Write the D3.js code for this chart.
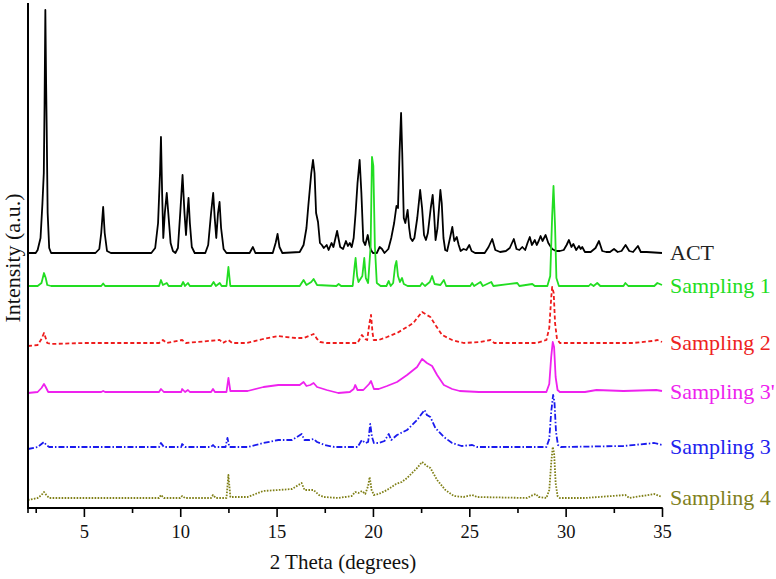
<!DOCTYPE html>
<html><head><meta charset="utf-8">
<script src="https://cdn.jsdelivr.net/npm/d3@7/dist/d3.min.js"></script>
<style>body{margin:0;background:#fff}svg{display:block}</style>
</head><body>
<svg id="c" width="776" height="579"></svg>
<script>
// ---- data (2θ, intensity above each trace's own baseline, a.u.) ----
const seriesNames = ["ACT","Sampling 1","Sampling 2","Sampling 3'","Sampling 3","Sampling 4"];
const seriesOffsets = [255, 222, 165, 116, 61, 10];
const xTicks = [5,10,15,20,25,30,35];
const xMinorTicks = [2.5,7.5,12.5,17.5,22.5,27.5,32.5];

const act = [[2.1,0],[2.5,0],[2.6,3],[2.75,15],[2.85,50],[2.92,80],[2.96,150],[3.0,243],[3.04,170],[3.07,125],[3.12,40],[3.2,5],[3.3,0],
[5.6,0],[5.8,4],[5.9,20],[6.0,46],[6.08,20],[6.2,2],[6.4,0],
[8.5,0],[8.7,5],[8.85,30],[8.95,80],[9.0,116],[9.06,60],[9.12,15],[9.2,40],[9.3,60],[9.38,40],[9.5,10],[9.62,2],[9.75,0],
[9.88,5],[10.0,40],[10.12,78],[10.22,40],[10.3,18],[10.37,40],[10.43,55],[10.5,30],[10.6,6],[10.75,0],
[11.3,0],[11.45,8],[11.6,40],[11.71,60],[11.79,35],[11.87,15],[11.96,40],[12.04,51],[12.12,25],[12.25,4],[12.4,0],
[13.6,0],[13.77,6],[13.9,0],[14.8,0],[14.95,10],[15.05,19],[15.15,6],[15.3,0],
[16.2,1],[16.4,8],[16.55,25],[16.65,48],[16.8,80],[16.89,93],[16.97,80],[17.05,40],[17.15,31],[17.25,10],[17.35,8],[17.45,5],[17.6,8],[17.7,3],[17.85,10],[17.95,6],[18.14,22],[18.3,6],[18.45,4],[18.6,12],[18.7,7],[18.8,10],[18.9,6],[19.0,15],[19.1,40],[19.2,70],[19.31,93],[19.4,60],[19.5,12],[19.6,8],[19.73,18],[19.82,8],[19.9,3],[20.0,0],[20.2,0],[20.35,6],[20.47,4],[20.6,0],
[20.8,4],[20.95,15],[21.1,30],[21.22,47],[21.3,45],[21.38,100],[21.46,140],[21.52,100],[21.6,35],[21.68,30],[21.8,43],[21.88,25],[21.95,15],[22.05,12],[22.15,15],[22.3,35],[22.45,63],[22.55,45],[22.65,18],[22.75,13],[22.85,20],[23.0,45],[23.1,58],[23.17,40],[23.25,13],[23.35,25],[23.5,63],[23.57,50],[23.66,15],[23.75,3],[23.85,2],[24.0,15],[24.12,26],[24.22,12],[24.35,16],[24.45,8],[24.55,2],[24.7,4],[24.85,3],[25.0,8],[25.12,2],[25.3,0],
[25.8,0],[26.0,6],[26.19,14],[26.35,3],[26.6,1],[26.9,2],[27.1,5],[27.31,14],[27.45,4],[27.6,3],[27.75,6],[27.9,3],[28.02,10],[28.14,16],[28.25,8],[28.4,13],[28.5,8],[28.6,12],[28.7,17],[28.8,12],[28.96,18],[29.1,10],[29.3,4],[29.5,2],[29.7,2],[29.9,3],[30.05,8],[30.17,13],[30.3,6],[30.4,9],[30.55,3],[30.69,7],[30.78,4],[30.86,6],[31.0,1],[31.3,1],[31.55,5],[31.73,12],[31.9,2],[32.1,1],[32.3,1],[32.51,4],[32.7,1],[32.9,2],[33.11,8],[33.3,2],[33.5,1],[33.75,7],[33.9,1],[34.2,1],[35,0]];

const s1 = [[2.1,0],[2.6,0],[2.8,3],[2.93,13],[3.02,8],[3.1,1],[3.3,0],[5.9,0],[6.0,2.5],[6.1,0],[8.9,0],[9.0,6],[9.1,1],[9.3,3],[9.4,0],[10.05,0],[10.15,4],[10.25,0],[10.4,3],[10.5,0],[11.6,0],[11.73,4],[11.85,0],[12.05,3],[12.15,0],[12.4,0],[12.5,19],[12.6,0],[16.2,0],[16.4,6],[16.55,1],[16.8,4],[16.92,7],[17.1,1],[18.1,0],[18.22,2],[18.35,0],[18.95,0],[19.05,20],[19.1,28],[19.18,10],[19.25,4],[19.45,10],[19.55,28],[19.63,8],[19.75,3],[19.88,40],[19.95,129],[20.02,120],[20.1,40],[20.2,3],[20.4,0],[20.7,0],[20.82,5],[20.92,0],[21.05,3],[21.15,20],[21.22,25],[21.3,10],[21.4,4],[21.51,8],[21.6,2],[21.8,0],[22.45,0],[22.55,3],[22.7,0],[22.95,4],[23.07,10],[23.2,2],[23.5,1],[23.68,6],[23.8,0],[25.05,0],[25.15,3],[25.25,0],[25.58,4],[25.7,0],[26.14,4],[26.25,0],[27.49,3],[27.6,0],[28.27,2],[28.4,0],[29.05,0],[29.2,10],[29.3,70],[29.37,100],[29.45,60],[29.52,8],[29.65,0],[31.2,0],[31.3,2],[31.45,0],[31.64,3],[31.8,0],[33.0,0],[33.1,3],[33.25,0],[34.6,0],[34.76,3],[35,1]];

const s2 = [[2.1,-3],[2.6,-2],[2.8,4],[2.93,10],[3.0,6],[3.1,0],[3.3,-1],[5,0],[8.9,0],[9.1,3],[9.3,0],[10.1,3],[10.3,0],[12.05,3],[12.2,0],[12.5,3],[12.7,0],[13.46,0],[14.3,4],[15.09,7],[15.5,6],[16.0,5],[16.4,5],[16.8,8],[16.92,9],[17.1,4],[17.27,1],[17.6,0],[19.2,0],[19.43,8],[19.6,4],[19.7,3],[19.82,20],[19.9,28],[19.98,10],[20.04,3],[20.3,3],[20.73,6],[21.25,10],[21.77,16],[22.1,20],[22.29,25],[22.55,31],[22.8,28],[22.98,26],[23.24,18],[23.59,8],[24.11,3],[24.71,0],[25.58,1],[26.1,3],[26.3,0],[28.5,0],[29.0,3],[29.15,15],[29.25,45],[29.3,56],[29.38,50],[29.45,20],[29.55,4],[29.7,0],[33.5,0],[34.5,2],[34.76,3],[35,1]];

const s3p = [[2.1,-1],[2.6,0],[2.8,4],[2.93,8],[3.02,5],[3.15,0],[5.9,0],[6.0,1],[6.1,0],[8.9,0],[9.0,3],[9.15,0],[10.05,0],[10.1,3],[10.25,0],[10.4,2],[10.5,0],[11.6,0],[11.7,3],[11.8,0],[12.4,0],[12.5,14],[12.6,1],[13.5,1],[14.32,5],[15.09,7],[15.8,7],[16.2,7],[16.4,10],[16.55,6],[16.75,7],[16.92,9],[17.1,5],[17.27,4],[17.6,2],[18.2,-1],[18.8,0],[19.0,3],[19.08,7],[19.2,2],[19.5,2],[19.8,8],[19.9,11],[20.05,3],[20.3,3],[20.73,6],[21.25,10],[21.77,17],[22.29,25],[22.55,33],[22.8,29],[23.07,26],[23.33,17],[23.68,7],[24.11,3],[24.5,1],[25.5,0],[29.0,0],[29.15,8],[29.25,35],[29.33,50],[29.4,45],[29.48,15],[29.58,2],[29.7,0],[31,0],[31.6,2],[33,1],[34.7,2],[35,1]];

const s3 = [[2.1,-2],[2.6,0],[2.8,3],[2.93,5],[3.05,2],[3.2,0],[8.9,0],[9.0,4],[9.15,0],[10.05,0],[10.1,3],[10.25,0],[11.6,0],[11.7,2],[11.8,0],[12.35,0],[12.45,9],[12.55,0],[13.5,0],[14.32,4],[15.09,7],[15.8,7],[16.3,13],[16.45,7],[16.7,7],[16.92,8],[17.1,5],[17.5,2],[18.0,0],[19.2,0],[19.43,7],[19.6,4],[19.75,5],[19.86,23],[19.95,10],[20.05,4],[20.3,4],[20.6,6],[20.82,13],[20.95,7],[21.25,12],[21.77,17],[22.29,27],[22.6,35],[22.68,37],[22.8,32],[22.98,30],[23.24,19],[23.68,10],[24.11,4],[24.6,1],[25.15,2],[25.4,0],[29.0,0],[29.15,8],[29.25,35],[29.35,52],[29.42,45],[29.5,15],[29.6,2],[29.75,0],[33,1],[34.6,4],[35,2]];

const s4 = [[2.1,-2],[2.6,0],[2.8,3],[2.93,6],[3.05,3],[3.2,0],[8.9,0],[9.0,3],[9.15,0],[10.0,0],[10.1,2],[10.25,0],[11.6,0],[11.7,3],[11.85,0],[12.4,0],[12.5,23],[12.6,1],[13.5,1],[14.3,7],[15.09,8],[15.8,9],[16.3,15],[16.45,8],[16.7,8],[16.92,8],[17.2,3],[17.45,1],[18.2,0],[18.9,2],[19.08,6],[19.25,5],[19.43,7],[19.6,4],[19.75,12],[19.83,21],[19.93,8],[20.05,3],[20.3,4],[20.73,8],[21.2,14],[21.5,16],[21.77,20],[22.29,30],[22.55,36],[22.8,32],[22.98,30],[23.33,18],[23.76,8],[24.2,2],[24.7,1],[25.15,3],[25.4,1],[28.0,0],[28.3,3],[28.45,4],[28.6,1],[29.0,0],[29.15,8],[29.25,35],[29.33,51],[29.4,45],[29.48,15],[29.58,2],[29.7,0],[31,0],[33.1,3],[33.3,0],[34.6,4],[35,1]];

const seriesData = [act, s1, s2, s3p, s3, s4];
const seriesColors = ["#000000","#22dd22","#ee1c1c","#ee22ee","#1a1aee","#808018"];
const seriesDash = [null, null, "4,2.5", null, "6,2,1.5,2", "1.6,1.4"];
const labelColors = ["#222222","#22dd22","#ee2222","#ee22ee","#2222ee","#808020"];

// ---- layout ----
const svg = d3.select("#c");
const x = d3.scaleLinear().domain([2.1, 35]).range([28, 662]);
const y = d3.scaleLinear().domain([0, 505]).range([508, 3]);
const font = "'Liberation Serif', 'DejaVu Serif', serif";

const line = d3.line().x(d => x(d[0])).y(d => d.y);

seriesData.forEach((data, i) => {
  const pts = data.map(d => { const p = [d[0], d[1]]; p.y = y(d[1] + seriesOffsets[i]); return p; });
  svg.append("path").datum(pts)
    .attr("d", line)
    .attr("fill", "none")
    .attr("stroke", seriesColors[i])
    .attr("stroke-width", 1.8)
    .attr("stroke-linejoin", "round")
    .attr("stroke-dasharray", seriesDash[i]);
  svg.append("text")
    .attr("x", 670).attr("y", y(seriesOffsets[i]) + 7)
    .attr("font-family", font).attr("font-size", 22)
    .attr("fill", labelColors[i])
    .text(seriesNames[i]);
});

// axes
const xAxis = d3.axisBottom(x).tickValues(xTicks).tickSize(9).tickPadding(8).tickFormat(d3.format("d"));
const gx = svg.append("g").attr("transform", `translate(0,${y(0)})`).call(xAxis);
gx.select(".domain").attr("stroke-width", 2).attr("d", `M${x(2.1)-1},0H${x(35)+0.8}`);
gx.selectAll(".tick line").attr("stroke-width", 1.6);
gx.selectAll(".tick text").attr("font-family", font).attr("font-size", 18.5).attr("fill", "#111");
const gm = svg.append("g").attr("transform", `translate(0,${y(0)})`)
  .call(d3.axisBottom(x).tickValues(xMinorTicks).tickSize(5).tickFormat(""));
gm.select(".domain").remove();
gm.selectAll(".tick line").attr("stroke-width", 1.6);
gx.append("line").attr("x1", x(2.1)).attr("x2", x(2.1)).attr("y1", 0).attr("y2", 5).attr("stroke", "#000").attr("stroke-width", 1.6);

svg.append("line").attr("x1", x(2.1)).attr("x2", x(2.1)).attr("y1", y(505)).attr("y2", y(0)+1)
  .attr("stroke", "#000").attr("stroke-width", 2);

svg.append("text").attr("x", 343).attr("y", 569).attr("text-anchor", "middle")
  .attr("font-family", font).attr("font-size", 21).attr("fill", "#111").text("2 Theta (degrees)");
svg.append("text").attr("transform", "translate(20,258) rotate(-90)").attr("text-anchor", "middle")
  .attr("font-family", font).attr("font-size", 22).attr("fill", "#111").text("Intensity (a.u.)");
</script>
</body></html>
